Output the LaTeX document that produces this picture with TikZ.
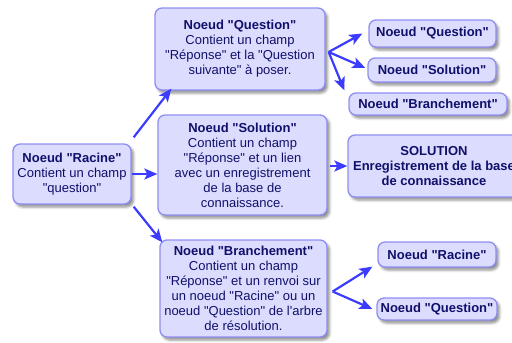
\documentclass[tikz,border=0pt]{standalone}
\usepackage{fontspec}
\setmainfont{Liberation Sans}[Ligatures=TeXOff]
\usetikzlibrary{arrows.meta,shadows.blur}

\definecolor{boxfill}{HTML}{DCDCFF}
\definecolor{boxline}{HTML}{8E8EF2}
\definecolor{boxtext}{HTML}{10106A}
\definecolor{arrowblue}{HTML}{3C3CFF}

\tikzset{
  treebox/.style={draw=boxline, fill=boxfill, line width=1.3pt, rounded corners=7pt,
    align=center, text=boxtext, inner sep=0pt,
    font=\fontsize{13}{15}\selectfont,
    blur shadow={shadow xshift=2.5pt, shadow yshift=-3pt, shadow blur radius=2.5pt, shadow opacity=45}},
  leafbox/.style={treebox, font=\fontsize{13}{15}\selectfont\bfseries},
  link/.style={draw=arrowblue, line width=2.2pt, -{Stealth[length=13pt, width=11pt, inset=3pt]}}
}

\begin{document}
\begin{tikzpicture}[x=1pt, y=-1pt]
  \path[use as bounding box, clip] (0,0) rectangle (512,343);

  % Root of the tree
  \node[treebox, minimum width=118pt, minimum height=60pt] (racine) at (72,174)
    {\textbf{Noeud "Racine"}\\Contient un champ\\"question"};

  % Second level
  \node[treebox, minimum width=170pt, minimum height=82pt] (question) at (240,49)
    {\textbf{Noeud "Question"}\\Contient un champ\\"Réponse" et la "Question\\suivante" à poser.};
  \node[treebox, minimum width=169pt, minimum height=100pt] (solution) at (242.5,165)
    {\textbf{Noeud "Solution"}\\Contient un champ\\"Réponse" et un lien\\avec un enregistrement\\de la base de\\connaissance.};
  \node[treebox, minimum width=167pt, minimum height=97pt] (branchement) at (243.5,288.5)
    {\textbf{Noeud "Branchement"}\\Contient un champ\\"Réponse" et un renvoi sur\\un noeud "Racine" ou un\\noeud "Question" de l'arbre\\de résolution.};

  % Third level
  \node[leafbox, minimum width=127pt, minimum height=27pt] (qQuestion) at (432.5,33.5) {Noeud "Question"};
  \node[leafbox, minimum width=128pt, minimum height=24pt] (qSolution) at (432,70) {Noeud "Solution"};
  \node[leafbox, minimum width=158pt, minimum height=22pt] (qBranchement) at (428,104) {Noeud "Branchement"};
  \node[leafbox, minimum width=172pt, minimum height=62pt] (solEnreg) at (434,166)
    {SOLUTION\\Enregistrement de la base\\de connaissance};
  \node[leafbox, minimum width=118pt, minimum height=25pt] (bRacine) at (437,254.5) {Noeud "Racine"};
  \node[leafbox, minimum width=120pt, minimum height=22pt] (bQuestion) at (437,309) {Noeud "Question"};

  % Links from the root
  \draw[link] ([shift={(2,-6)}]racine.north east) -- ([shift={(17,-2)}]question.south west);
  \draw[link] (racine.east) -- (racine.east -| solution.west);
  \draw[link] ([shift={(2,2)}]racine.south east) -- ([shift={(3,3)}]branchement.north west);

  % Links from the second level
  \coordinate (qfan) at ([shift={(3,3)}]question.east);
  \coordinate (bfan) at ([shift={(5,3)}]branchement.east);
  \draw[link] (qfan) -- ([xshift=-6pt]qQuestion.west);
  \draw[link] (qfan) -- ([shift={(-2,-2)}]qSolution.west);
  \draw[link] (qfan) -- ([shift={(-4,-2)}]qBranchement.north west);
  \draw[link] ([xshift=2pt]solution.east |- solEnreg.west) -- (solEnreg.west);
  \draw[link] (bfan) -- ([shift={(-5,-1)}]bRacine.south west);
  \draw[link] (bfan) -- ([xshift=-4pt]bQuestion.west);
\end{tikzpicture}
\end{document}
